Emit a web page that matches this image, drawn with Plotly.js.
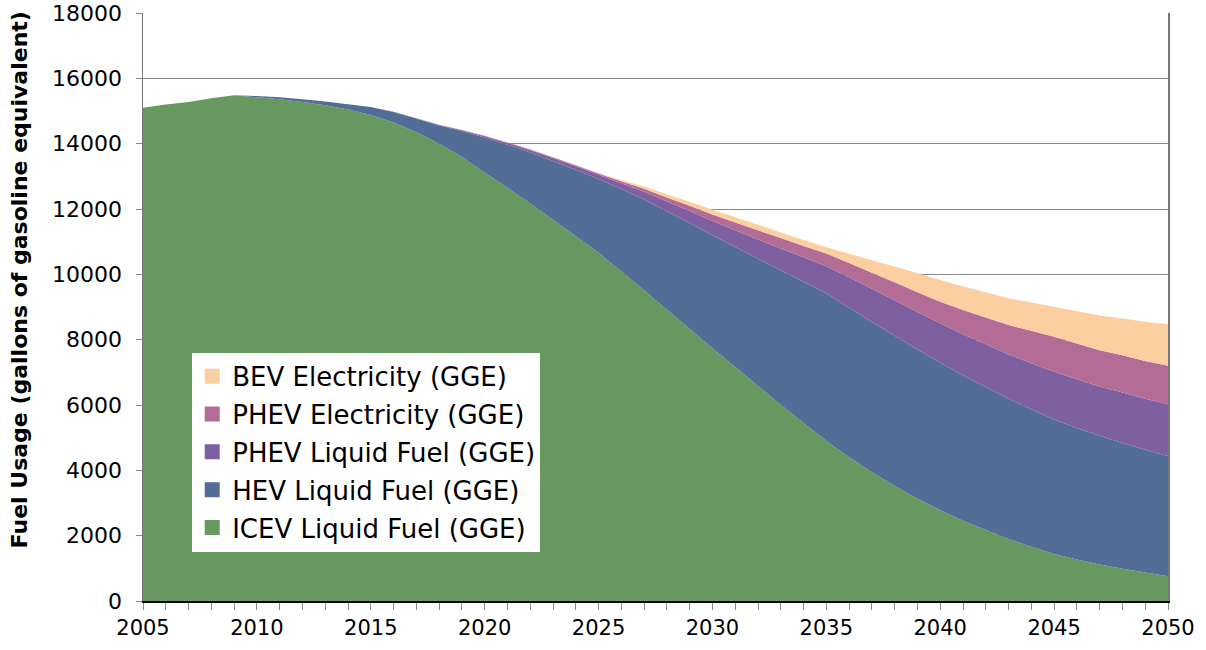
<!DOCTYPE html>
<html>
<head>
<meta charset="utf-8">
<script src="https://cdn.plot.ly/plotly-3.0.1.min.js"></script>
<style>
html,body{margin:0;padding:0;background:#fff;}
#chart{width:1206px;height:650px;}
</style>
</head>
<body>
<div id="chart"></div>
<script>
const years = [];
for (let y = 2005; y <= 2050; y++) years.push(y);

const seriesNames = [
  "ICEV Liquid Fuel (GGE)",
  "HEV Liquid Fuel (GGE)",
  "PHEV Liquid Fuel (GGE)",
  "PHEV Electricity (GGE)",
  "BEV Electricity (GGE)"
];

const icevLiquid = [15100,15200,15280,15390,15480,15420,15360,15280,15180,15050,
  14880,14650,14350,14000,13590,13110,12650,12170,11670,11170,
  10660,10090,9510,8920,8330,7740,7160,6580,6010,5450,
  4900,4400,3940,3520,3130,2780,2460,2170,1900,1660,
  1440,1270,1120,990,870,760];

const hevLiquid = [0,0,0,0,0,40,60,80,110,160,
  240,320,420,560,800,1080,1320,1560,1800,2030,
  2260,2520,2780,3010,3240,3460,3680,3900,4110,4320,
  4520,4580,4600,4600,4570,4510,4450,4380,4290,4210,
  4120,4030,3940,3850,3760,3680];

const phevLiquid = [0,0,0,0,0,0,0,0,0,0,
  0,5,10,15,25,40,55,70,90,110,
  130,180,240,300,370,430,510,590,670,750,
  830,930,1020,1090,1150,1210,1260,1310,1360,1410,
  1460,1490,1510,1540,1560,1580];

const phevElec = [0,0,0,0,0,0,0,0,0,0,
  0,0,0,5,5,10,15,20,25,30,
  35,60,90,120,160,200,240,280,320,350,
  390,440,490,550,600,660,740,820,900,990,
  1070,1090,1110,1140,1160,1180];

const bevElec = [0,0,0,0,0,0,0,0,0,0,
  0,0,0,0,0,0,5,5,10,10,
  15,40,70,100,125,150,160,170,175,185,
  190,280,380,480,580,670,720,770,820,870,
  920,990,1060,1130,1200,1270];

const seriesValues = [icevLiquid, hevLiquid, phevLiquid, phevElec, bevElec];
const seriesColors = ["#67985F", "#536E96", "#7E60A0", "#B26C96", "#FCCFA1"];

const yTicks = [0,2000,4000,6000,8000,10000,12000,14000,16000,18000];
const yTitle = "Fuel Usage (gallons of gasoline equivalent)";

const FONT = "'DejaVu Sans', sans-serif";

const areaTraces = seriesNames.map((name, i) => ({
  type: "scatter",
  x: years,
  y: seriesValues[i],
  name: name,
  stackgroup: "one",
  mode: "none",
  fillcolor: seriesColors[i],
  line: {shape: "linear", width: 0},
  showlegend: false,
  hoverinfo: "x+y+name"
}));

const legendTraces = seriesNames.map((name, i) => ({
  type: "scatter",
  x: [null],
  y: [null],
  name: name,
  mode: "markers",
  marker: {symbol: "square", size: 15, color: seriesColors[i]},
  showlegend: true,
  legendgroup: "g" + i,
  legendrank: 100 - i * 10
}));

const layout = {
  width: 1206,
  height: 650,
  margin: {l: 143, r: 38, t: 13, b: 49},
  paper_bgcolor: "#ffffff",
  plot_bgcolor: "#ffffff",
  font: {family: FONT, size: 20, color: "#000"},
  showlegend: true,
  legend: {
    x: 0.048, y: 0.422, xanchor: "left", yanchor: "top",
    bgcolor: "#ffffff",
    borderwidth: 0,
    traceorder: "grouped",
    tracegroupgap: 1,
    font: {family: FONT, size: 26, color: "#000"},
    itemwidth: 30
  },
  xaxis: {
    range: [2005, 2050],
    tickmode: "linear",
    tick0: 2005,
    dtick: 5,
    ticks: "outside",
    ticklen: 7,
    tickcolor: "#888",
    tickwidth: 1,
    minor: {dtick: 1, tick0: 2005, ticks: "outside", ticklen: 7, tickcolor: "#888", tickwidth: 1, showgrid: false},
    showline: true,
    linecolor: "#000",
    linewidth: 2,
    showgrid: false,
    zeroline: false,
    tickfont: {family: FONT, size: 21, color: "#000"},
    fixedrange: true
  },
  yaxis: {
    range: [0, 18001],
    tickmode: "array",
    tickvals: yTicks,
    ticktext: yTicks.map(String),
    ticks: "outside",
    ticklen: 6,
    tickcolor: "#888",
    ticklabelstandoff: 9,
    showline: true,
    linecolor: "#777",
    linewidth: 1.5,
    mirror: true,
    showgrid: true,
    gridcolor: "#8c8c8c",
    gridwidth: 1,
    zeroline: false,
    tickfont: {family: FONT, size: 22, color: "#000"},
    fixedrange: true
  },
  annotations: [{
    text: yTitle,
    textangle: -90,
    xref: "paper", yref: "paper",
    x: -0.1205, y: 0.546,
    xanchor: "center", yanchor: "middle",
    showarrow: false,
    font: {family: FONT, size: 22, color: "#000", weight: "bold"}
  }]
};

Plotly.newPlot("chart", areaTraces.concat(legendTraces), layout, {displayModeBar: false, staticPlot: true});
</script>
</body>
</html>
